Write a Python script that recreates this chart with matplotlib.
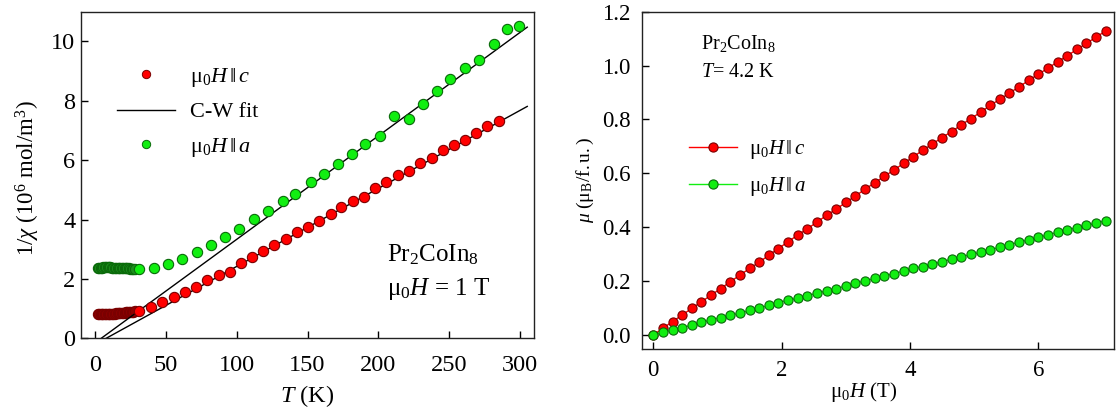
import matplotlib
matplotlib.use("Agg")
import matplotlib.pyplot as plt
from matplotlib.lines import Line2D

# ---------------------------------------------------------------------------
# Inverse susceptibility, mu0H = 1 T
# ---------------------------------------------------------------------------
T_low = [2, 3, 4, 5, 6, 7, 8, 9, 10, 11, 12, 13, 14, 15, 16, 17, 18, 19, 20,
         21, 22, 23, 24, 25, 26, 27, 28]
inv_chi_c_low = [0.82, 0.82, 0.82, 0.82, 0.82, 0.82, 0.82, 0.82, 0.82, 0.83,
                 0.83, 0.83, 0.83, 0.84, 0.84, 0.84, 0.85, 0.85, 0.86, 0.86,
                 0.87, 0.87, 0.88, 0.88, 0.89, 0.90, 0.91]
inv_chi_a_low = [2.38, 2.38, 2.38, 2.38, 2.39, 2.39, 2.39, 2.39, 2.39, 2.39,
                 2.38, 2.38, 2.38, 2.38, 2.38, 2.37, 2.37, 2.37, 2.37, 2.36,
                 2.36, 2.36, 2.36, 2.35, 2.35, 2.35, 2.35]

T_c = [31.0, 39.3, 47.4, 55.5, 63.3, 71.1, 79.4, 87.5, 95.0, 102.9, 110.7,
       118.7, 126.5, 134.9, 142.4, 150.0, 158.1, 166.4, 173.9, 182.0, 189.8,
       197.9, 205.4, 213.5, 221.3, 229.4, 237.7, 245.8, 253.3, 260.9, 269.2,
       276.8, 284.8]
inv_chi_c = [0.92, 1.06, 1.21, 1.40, 1.56, 1.74, 1.96, 2.13, 2.24, 2.54, 2.74,
             2.93, 3.13, 3.36, 3.59, 3.76, 3.95, 4.17, 4.41, 4.62, 4.77, 5.05,
             5.27, 5.50, 5.63, 5.89, 6.08, 6.33, 6.50, 6.67, 6.93, 7.14, 7.33]

T_a = [31.0, 41.6, 51.6, 61.8, 71.8, 81.9, 92.0, 101.8, 112.2, 121.8, 132.4,
       141.4, 152.3, 161.3, 171.7, 181.5, 190.8, 201.4, 210.9, 221.3, 231.2,
       241.2, 250.8, 260.9, 270.9, 281.6, 290.6, 299.5]
inv_chi_a = [2.35, 2.38, 2.50, 2.67, 2.90, 3.14, 3.40, 3.69, 4.02, 4.29, 4.64,
             4.86, 5.25, 5.53, 5.88, 6.22, 6.56, 6.83, 7.48, 7.40, 7.88, 8.34,
             8.73, 9.10, 9.36, 9.90, 10.43, 10.51]

# Curie-Weiss fit lines (end points)
fit_T_c = [8.0, 305.0]
fit_c = [0.0, 7.81]
fit_T_a = [4.5, 305.0]
fit_a = [0.0, 10.48]

# ---------------------------------------------------------------------------
# Magnetization at T = 4.2 K
# ---------------------------------------------------------------------------
H = [0.00, 0.15, 0.30, 0.45, 0.60, 0.75, 0.90, 1.05, 1.20, 1.35, 1.50, 1.65,
     1.80, 1.95, 2.10, 2.25, 2.40, 2.55, 2.70, 2.85, 3.00, 3.15, 3.30, 3.45,
     3.60, 3.75, 3.90, 4.05, 4.20, 4.35, 4.50, 4.65, 4.80, 4.95, 5.10, 5.25,
     5.40, 5.55, 5.70, 5.85, 6.00, 6.15, 6.30, 6.45, 6.60, 6.75, 6.90, 7.05]
m_c = [0.0, 0.025, 0.050, 0.074, 0.099, 0.123, 0.148, 0.172, 0.198, 0.222,
       0.247, 0.270, 0.296, 0.321, 0.346, 0.371, 0.394, 0.419, 0.444, 0.467,
       0.492, 0.516, 0.541, 0.565, 0.589, 0.612, 0.637, 0.661, 0.686, 0.709,
       0.733, 0.755, 0.780, 0.803, 0.827, 0.852, 0.875, 0.898, 0.921, 0.945,
       0.968, 0.990, 1.014, 1.036, 1.060, 1.082, 1.106, 1.128]
m_a = [0.0, 0.010, 0.019, 0.027, 0.037, 0.047, 0.056, 0.065, 0.074, 0.081,
       0.091, 0.100, 0.110, 0.120, 0.130, 0.136, 0.146, 0.155, 0.164, 0.172,
       0.182, 0.192, 0.201, 0.210, 0.219, 0.228, 0.237, 0.247, 0.254, 0.263,
       0.272, 0.281, 0.290, 0.299, 0.307, 0.316, 0.326, 0.335, 0.345, 0.353,
       0.362, 0.372, 0.381, 0.391, 0.398, 0.407, 0.415, 0.425]

RED, RED_EDGE, RED_DARK = "#FF0000", "#7A0000", "#8E0000"
GREEN, GREEN_EDGE, GREEN_DARK = "#11EE11", "#0A6A0A", "#1C8F1C"
FONT = "Liberation Serif"

plt.rcParams.update({
    "font.family": FONT,
    "mathtext.fontset": "custom",
    "mathtext.rm": FONT,
    "mathtext.it": FONT + ":italic",
    "mathtext.bf": FONT + ":bold",
    "axes.linewidth": 1.0,
})

fig = plt.figure(figsize=(11.16, 4.12), dpi=100)
ax1 = fig.add_axes([0.0723, 0.1789, 0.4065, 0.7927])
ax2 = fig.add_axes([0.5750, 0.1522, 0.4232, 0.8194])

for ax in (ax1, ax2):
    ax.tick_params(direction="in", length=5, width=1, top=False, right=False)
    for sp in ax.spines.values():
        sp.set_color("#222222")

# ---- left: 1/chi vs T ----
mk = dict(marker="o", linestyle="none", markersize=7.4, markeredgewidth=0.8)
ax1.plot(T_low, inv_chi_c_low, color=RED_DARK, markeredgecolor=RED_EDGE, **mk)
ax1.plot(T_low, inv_chi_a_low, color=GREEN_DARK, markeredgecolor=GREEN_EDGE, **mk)
ax1.plot(fit_T_c, fit_c, color="black", linewidth=1.0)
ax1.plot(fit_T_a, fit_a, color="black", linewidth=1.0)
ax1.plot(T_c, inv_chi_c, color=RED, markeredgecolor=RED_EDGE, **mk)
ax1.plot(T_a, inv_chi_a, color=GREEN, markeredgecolor=GREEN_EDGE, **mk)

ax1.set_xlim(-10, 310)
ax1.set_ylim(0, 11)
ax1.set_xticks(range(0, 301, 50))
ax1.set_yticks(range(0, 11, 2))
ax1.tick_params(labelsize=17.5)
ax1.tick_params(axis="x", pad=12)
ax1.tick_params(axis="y", pad=4)
ax1.set_xlabel(r"$T$ (K)", fontsize=17.5, labelpad=5)
ax1.set_ylabel(r"$1/\chi$ (10$^6$ mol/m$^3$)", fontsize=16.5)
ax1.yaxis.set_label_coords(-0.085, 0.49)

handles1 = [
    Line2D([], [], marker="o", linestyle="none", markersize=6,
           color=RED, markeredgecolor=RED_EDGE, markeredgewidth=0.7),
    Line2D([], [], color="black", linewidth=1.0),
    Line2D([], [], marker="o", linestyle="none", markersize=6,
           color=GREEN, markeredgecolor=GREEN_EDGE, markeredgewidth=0.7),
]
labels1 = [r"$\mathrm{\mu}_0H\,\|\,c$", "C-W fit", r"$\mathrm{\mu}_0H\,\|\,a$"]
ax1.legend(handles1, labels1, loc="upper left", bbox_to_anchor=(0.08, 0.835),
           frameon=False, fontsize=16, handlelength=2.6, handletextpad=0.7,
           labelspacing=0.6, borderpad=0, borderaxespad=0)

ax1.text(0.675, 0.255, r"Pr$_2$CoIn$_8$", transform=ax1.transAxes,
         fontsize=18, va="center")
ax1.text(0.675, 0.15, r"$\mathrm{\mu}_0H$ = 1 T", transform=ax1.transAxes,
         fontsize=18, va="center")

# ---- right: moment vs field ----
mk2 = dict(marker="o", markersize=6.6, markeredgewidth=0.8, linewidth=1.0)
ax2.plot(H, m_c, color=RED, markerfacecolor=RED, markeredgecolor=RED_EDGE,
         label=r"$\mathrm{\mu}_0H\,\|\,c$", **mk2)
ax2.plot(H, m_a, color=GREEN, markerfacecolor=GREEN,
         markeredgecolor=GREEN_EDGE, label=r"$\mathrm{\mu}_0H\,\|\,a$", **mk2)

ax2.set_xlim(-0.18, 7.18)
ax2.set_ylim(-0.053, 1.2)
ax2.set_xticks([0, 2, 4, 6])
ax2.set_yticks([0.0, 0.2, 0.4, 0.6, 0.8, 1.0, 1.2])
ax2.set_yticklabels([f"{v:.1f}" for v in ax2.get_yticks()])
ax2.tick_params(labelsize=16.5)
ax2.tick_params(axis="x", pad=8)
ax2.tick_params(axis="y", pad=8)
ax2.set_xlabel(r"$\mathrm{\mu}_0H$ (T)", fontsize=15)
ax2.xaxis.set_label_coords(0.47, -0.09)
ax2.set_ylabel(r"$\mu\ (\mathrm{\mu}_\mathrm{B}/\mathrm{f.u.})$", fontsize=14,
               labelpad=4)

ax2.legend(loc="upper left", bbox_to_anchor=(0.10, 0.625), frameon=False,
           fontsize=15, handlelength=2.3, handletextpad=0.6,
           labelspacing=0.65, borderpad=0, borderaxespad=0)

ax2.text(0.125, 0.905, r"Pr$_2$CoIn$_8$", transform=ax2.transAxes,
         fontsize=14.5, va="center")
ax2.text(0.125, 0.82, r"$T$= 4.2 K", transform=ax2.transAxes,
         fontsize=14.5, va="center")

fig.savefig("out.png", dpi=100)
